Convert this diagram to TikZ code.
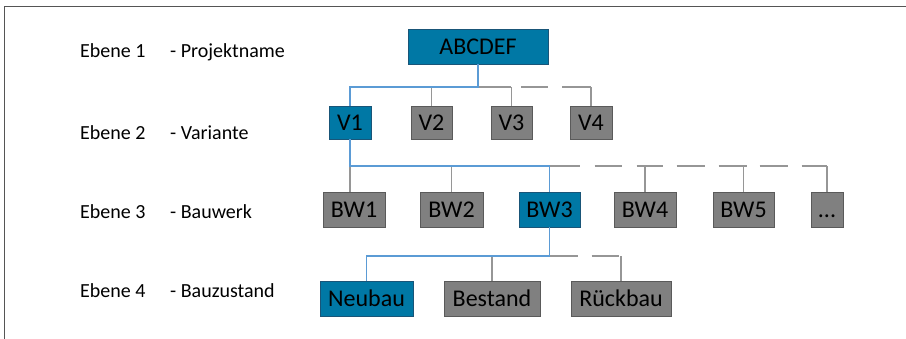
\documentclass[tikz,border=0pt]{standalone}
\usepackage{fontspec}
\setmainfont{Carlito}
\definecolor{boxblue}{RGB}{0,120,165}
\definecolor{boxblueline}{RGB}{25,85,120}
\definecolor{boxgray}{RGB}{128,128,128}
\definecolor{boxgrayline}{RGB}{90,90,90}
\definecolor{lineblue}{RGB}{91,155,213}
\definecolor{linegray}{RGB}{150,150,150}
\definecolor{framegray}{RGB}{85,85,85}
\tikzset{
  basebox/.style={line width=0.8pt, inner sep=0pt, text height=15.5pt, text depth=0pt,
    minimum height=35pt, text=black, font=\fontsize{24}{28}\selectfont},
  bbox/.style={basebox, draw=boxblueline, fill=boxblue},
  gbox/.style={basebox, draw=boxgrayline, fill=boxgray},
  lbl/.style={anchor=base west, inner sep=0pt, font=\fontsize{20}{24}\selectfont},
  bl/.style={draw=lineblue, line width=1.3pt},
  gl/.style={draw=linegray, line width=1.3pt},
  framestyle/.style={draw=framegray, line width=1.5pt},
}
\begin{document}
\begin{tikzpicture}[x=1pt,y=-1pt]
\useasboundingbox (0,0) rectangle (906,338);
% frame
\coordinate (fTL) at (4.3,6.7);
\coordinate (fTR) at (907,6.7);
\coordinate (fBL) at (4.3,339);
\draw[framestyle] (fTR) -- (fTL) -- (fBL);

% labels
\node[lbl] (e1) at (80,57) {Ebene 1};
\node[lbl] (p1) at (170,57) {- Projektname};
\node[lbl] (e2) at (80,139) {Ebene 2};
\node[lbl] (p2) at (170,139) {- Variante};
\node[lbl] (e3) at (80,218) {Ebene 3};
\node[lbl] (p3) at (170,218) {- Bauwerk};
\node[lbl] (e4) at (80,297) {Ebene 4};
\node[lbl] (p4) at (170,297) {- Bauzustand};

% boxes
\node[bbox, minimum width=140pt] (abc) at (478,46.5) {ABCDEF};
\node[bbox, minimum width=42pt, minimum height=33pt] (v1) at (350,122.5) {V1};
\node[gbox, minimum width=41pt, minimum height=33pt] (v2) at (431.5,122.5) {V2};
\node[gbox, minimum width=41pt, minimum height=33pt] (v3) at (511.5,122.5) {V3};
\node[gbox, minimum width=42pt, minimum height=33pt] (v4) at (591,122.5) {V4};

\node[gbox, minimum width=62pt] (bw1) at (354,209.5) {BW1};
\node[gbox, minimum width=63pt] (bw2) at (451.5,209.5) {BW2};
\node[bbox, minimum width=61pt] (bw3) at (549.5,209.5) {BW3};
\node[gbox, minimum width=62pt] (bw4) at (645,209.5) {BW4};
\node[gbox, minimum width=61pt] (bw5) at (743.5,209.5) {BW5};
\node[gbox, minimum width=32pt] (dots) at (827,209.5) {...};

\node[bbox, minimum width=93pt] (neubau) at (366.5,298.5) {Neubau};
\node[gbox, minimum width=96pt] (bestand) at (492,298.5) {Bestand};
\node[gbox, minimum width=100pt] (rueckbau) at (621,298.5) {Rückbau};

% level 2 connectors
\coordinate (b2) at (abc.south |- 0,87);
\draw[gl] (v2.north) -- (v2.north |- b2);
\draw[gl] (v3.north) -- (v3.north |- b2);
\draw[gl] (v4.north) -- (v4.north |- b2);
\draw[gl, dash pattern={on 33pt off 10pt on 27pt off 14pt on 30pt}] (b2) -- (b2 -| v4.north);
\draw[bl] (abc.south) -- (b2) -- (b2 -| v1.north) -- (v1.north);

% level 3 connectors
\coordinate (b3) at (v1.south |- 0,166);
\draw[gl] (b3) -- (b3 |- bw1.north);
\draw[gl] (bw2.north) -- (bw2.north |- b3);
\draw[gl] (bw4.north) -- (bw4.north |- b3);
\draw[gl] (bw5.north) -- (bw5.north |- b3);
\draw[gl] (dots.north) -- (dots.north |- b3);
\draw[gl, dash pattern={on 30pt off 15pt on 27pt off 15pt on 26pt off 14pt on 28pt off 14pt on 28pt off 13pt on 28pt off 14pt on 25pt}] (b3 -| bw3.north) -- (b3 -| dots.north);
\draw[bl] (v1.south) -- (b3) -- (b3 -| bw3.north) -- (bw3.north);

% level 4 connectors
\coordinate (b4) at (bw3.south |- 0,256);
\draw[gl] (bestand.north) -- (bestand.north |- b4);
\draw[gl] (rueckbau.north) -- (rueckbau.north |- b4);
\draw[gl, dash pattern={on 28pt off 14pt on 27pt}] (b4) -- (b4 -| rueckbau.north);
\draw[bl] (bw3.south) -- (b4) -- (b4 -| neubau.north) -- (neubau.north);
\end{tikzpicture}
\end{document}
